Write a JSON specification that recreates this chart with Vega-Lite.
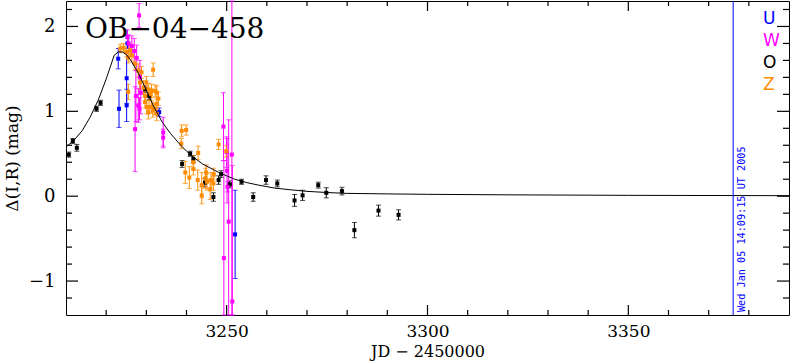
{
  "$schema": "https://vega.github.io/schema/vega-lite/v6.json",
  "width": 723,
  "height": 314,
  "autosize": {"type": "none"},
  "padding": {"left": 66, "top": 1, "right": 1, "bottom": 47},
  "background": "white",
  "config": {
    "font": "DejaVu Serif",
    "view": {"stroke": "black", "strokeWidth": 1, "fill": null},
    "axis": {"grid": false, "domain": false, "ticks": true, "tickOpacity": 0, "labelColor": "black", "titleColor": "black", "titleFontWeight": "normal", "labelFlush": false, "labelOverlap": false}
  },
  "datasets": {
    "obs": [
      {"s": "O", "x": 3210.7, "y": 0.49, "e": 0.03},
      {"s": "O", "x": 3211.7, "y": 0.65, "e": 0.03},
      {"s": "O", "x": 3212.7, "y": 0.57, "e": 0.04},
      {"s": "O", "x": 3217.6, "y": 1.03, "e": 0.03},
      {"s": "O", "x": 3218.6, "y": 1.10, "e": 0.03},
      {"s": "O", "x": 3229.7, "y": 1.26, "e": 0.04},
      {"s": "O", "x": 3230.7, "y": 1.18, "e": 0.04},
      {"s": "O", "x": 3238.9, "y": 0.38, "e": 0.04},
      {"s": "O", "x": 3240.9, "y": 0.50, "e": 0.03},
      {"s": "O", "x": 3241.7, "y": 0.44, "e": 0.04},
      {"s": "O", "x": 3244.6, "y": 0.16, "e": 0.05},
      {"s": "O", "x": 3246.7, "y": -0.01, "e": 0.05},
      {"s": "O", "x": 3248.0, "y": 0.19, "e": 0.05},
      {"s": "O", "x": 3248.6, "y": 0.26, "e": 0.04},
      {"s": "O", "x": 3250.8, "y": 0.14, "e": 0.04},
      {"s": "O", "x": 3253.7, "y": 0.17, "e": 0.03},
      {"s": "O", "x": 3256.6, "y": -0.01, "e": 0.05},
      {"s": "O", "x": 3259.8, "y": 0.19, "e": 0.05},
      {"s": "O", "x": 3262.6, "y": 0.15, "e": 0.04},
      {"s": "O", "x": 3266.9, "y": -0.05, "e": 0.07},
      {"s": "O", "x": 3268.9, "y": 0.01, "e": 0.06},
      {"s": "O", "x": 3272.8, "y": 0.13, "e": 0.035},
      {"s": "O", "x": 3274.8, "y": 0.04, "e": 0.06},
      {"s": "O", "x": 3278.7, "y": 0.06, "e": 0.045},
      {"s": "O", "x": 3281.8, "y": -0.40, "e": 0.09},
      {"s": "O", "x": 3287.8, "y": -0.17, "e": 0.065},
      {"s": "O", "x": 3292.8, "y": -0.22, "e": 0.06},
      {"s": "U", "x": 3223.0, "y": 1.62, "e": 0.12},
      {"s": "U", "x": 3225.1, "y": 1.39, "e": 0.30},
      {"s": "U", "x": 3223.2, "y": 1.03, "e": 0.22},
      {"s": "U", "x": 3225.1, "y": 1.07, "e": 0.19},
      {"s": "U", "x": 3225.3, "y": 1.80, "e": 0.06},
      {"s": "U", "x": 3233.2, "y": 0.99, "e": 0.05},
      {"s": "U", "x": 3252.1, "y": -0.45, "e": 0.52},
      {"s": "W", "x": 3228.2, "y": 2.13, "e": 0.14},
      {"s": "W", "x": 3225.3, "y": 1.88, "e": 0.08},
      {"s": "W", "x": 3225.6, "y": 1.80, "e": 0.10},
      {"s": "W", "x": 3226.4, "y": 1.77, "e": 0.12},
      {"s": "W", "x": 3227.0, "y": 1.71, "e": 0.15},
      {"s": "W", "x": 3227.6, "y": 1.63, "e": 0.15},
      {"s": "W", "x": 3228.4, "y": 1.40, "e": 0.20},
      {"s": "W", "x": 3227.4, "y": 1.18, "e": 0.30},
      {"s": "W", "x": 3228.0, "y": 1.07, "e": 0.20},
      {"s": "W", "x": 3227.2, "y": 0.79, "e": 0.50},
      {"s": "W", "x": 3228.3, "y": 1.03, "e": 0.13},
      {"s": "W", "x": 3228.6, "y": 1.22, "e": 0.25},
      {"s": "W", "x": 3234.2, "y": 0.75, "e": 0.18},
      {"s": "W", "x": 3234.2, "y": 0.69, "e": 0.10},
      {"s": "W", "x": 3249.2, "y": 0.82, "e": 0.40},
      {"s": "W", "x": 3249.3, "y": -0.73, "e": 1.15},
      {"s": "W", "x": 3250.0, "y": 0.52, "e": 0.18},
      {"s": "W", "x": 3250.1, "y": 0.30, "e": 0.38},
      {"s": "W", "x": 3250.2, "y": 0.11, "e": 0.06},
      {"s": "W", "x": 3250.5, "y": -0.30, "e": 1.20},
      {"s": "W", "x": 3251.3, "y": 0.49, "e": 2.20},
      {"s": "W", "x": 3251.4, "y": -1.24, "e": 1.60},
      {"s": "Z", "x": 3223.5, "y": 1.74, "e": 0.05},
      {"s": "Z", "x": 3224.3, "y": 1.75, "e": 0.05},
      {"s": "Z", "x": 3225.0, "y": 1.70, "e": 0.06},
      {"s": "Z", "x": 3225.9, "y": 1.72, "e": 0.06},
      {"s": "Z", "x": 3226.4, "y": 1.66, "e": 0.07},
      {"s": "Z", "x": 3225.5, "y": 1.63, "e": 0.06},
      {"s": "Z", "x": 3227.2, "y": 1.56, "e": 0.07},
      {"s": "Z", "x": 3228.0, "y": 1.48, "e": 0.08},
      {"s": "Z", "x": 3228.8, "y": 1.46, "e": 0.07},
      {"s": "Z", "x": 3231.7, "y": 1.49, "e": 0.08},
      {"s": "Z", "x": 3228.4, "y": 1.34, "e": 0.08},
      {"s": "Z", "x": 3229.3, "y": 1.28, "e": 0.08},
      {"s": "Z", "x": 3230.0, "y": 1.34, "e": 0.07},
      {"s": "Z", "x": 3230.5, "y": 1.26, "e": 0.07},
      {"s": "Z", "x": 3231.1, "y": 1.20, "e": 0.07},
      {"s": "Z", "x": 3231.3, "y": 1.24, "e": 0.08},
      {"s": "Z", "x": 3232.2, "y": 1.24, "e": 0.07},
      {"s": "Z", "x": 3232.6, "y": 1.22, "e": 0.08},
      {"s": "Z", "x": 3233.0, "y": 1.15, "e": 0.08},
      {"s": "Z", "x": 3229.7, "y": 1.18, "e": 0.08},
      {"s": "Z", "x": 3229.7, "y": 1.11, "e": 0.07},
      {"s": "Z", "x": 3230.1, "y": 1.05, "e": 0.08},
      {"s": "Z", "x": 3230.7, "y": 1.05, "e": 0.08},
      {"s": "Z", "x": 3231.3, "y": 1.05, "e": 0.07},
      {"s": "Z", "x": 3231.6, "y": 1.01, "e": 0.08},
      {"s": "Z", "x": 3232.1, "y": 1.03, "e": 0.07},
      {"s": "Z", "x": 3232.6, "y": 1.09, "e": 0.07},
      {"s": "Z", "x": 3232.6, "y": 0.97, "e": 0.08},
      {"s": "Z", "x": 3230.5, "y": 0.99, "e": 0.08},
      {"s": "Z", "x": 3225.5, "y": 1.23, "e": 0.09},
      {"s": "Z", "x": 3238.8, "y": 0.77, "e": 0.07},
      {"s": "Z", "x": 3239.9, "y": 0.78, "e": 0.06},
      {"s": "Z", "x": 3238.7, "y": 0.62, "e": 0.06},
      {"s": "Z", "x": 3239.7, "y": 0.28, "e": 0.13},
      {"s": "Z", "x": 3240.7, "y": 0.22, "e": 0.13},
      {"s": "Z", "x": 3241.7, "y": 0.40, "e": 0.08},
      {"s": "Z", "x": 3241.7, "y": 0.32, "e": 0.07},
      {"s": "Z", "x": 3242.9, "y": 0.51, "e": 0.08},
      {"s": "Z", "x": 3242.8, "y": 0.19, "e": 0.12},
      {"s": "Z", "x": 3243.8, "y": 0.13, "e": 0.15},
      {"s": "Z", "x": 3243.8, "y": 0.01, "e": 0.10},
      {"s": "Z", "x": 3244.7, "y": 0.21, "e": 0.12},
      {"s": "Z", "x": 3244.9, "y": 0.28, "e": 0.09},
      {"s": "Z", "x": 3245.1, "y": 0.17, "e": 0.10},
      {"s": "Z", "x": 3245.9, "y": 0.08, "e": 0.12},
      {"s": "Z", "x": 3246.1, "y": 0.19, "e": 0.09},
      {"s": "Z", "x": 3246.7, "y": 0.15, "e": 0.08},
      {"s": "Z", "x": 3246.8, "y": 0.26, "e": 0.07},
      {"s": "Z", "x": 3248.0, "y": 0.61, "e": 0.06},
      {"s": "Z", "x": 3249.9, "y": 0.53, "e": 0.07}
    ],
    "model": [
      {"x": 3210, "y": 0.58}, {"x": 3212, "y": 0.66}, {"x": 3214, "y": 0.77},
      {"x": 3216, "y": 0.93}, {"x": 3218, "y": 1.13}, {"x": 3220, "y": 1.38},
      {"x": 3222, "y": 1.66}, {"x": 3223, "y": 1.70}, {"x": 3224, "y": 1.70},
      {"x": 3225, "y": 1.67}, {"x": 3226, "y": 1.61}, {"x": 3228, "y": 1.45},
      {"x": 3230, "y": 1.25}, {"x": 3232, "y": 1.04}, {"x": 3234, "y": 0.87},
      {"x": 3236, "y": 0.74}, {"x": 3238, "y": 0.63}, {"x": 3240, "y": 0.53},
      {"x": 3242, "y": 0.45}, {"x": 3244, "y": 0.38}, {"x": 3246, "y": 0.33},
      {"x": 3248, "y": 0.28}, {"x": 3250, "y": 0.24}, {"x": 3252, "y": 0.20},
      {"x": 3255, "y": 0.16}, {"x": 3258, "y": 0.13}, {"x": 3262, "y": 0.095},
      {"x": 3266, "y": 0.075}, {"x": 3270, "y": 0.057}, {"x": 3275, "y": 0.043},
      {"x": 3280, "y": 0.033}, {"x": 3290, "y": 0.027}, {"x": 3300, "y": 0.022},
      {"x": 3320, "y": 0.016}, {"x": 3350, "y": 0.01}, {"x": 3390, "y": 0.006}
    ],
    "xticks": [{"v": 3220}, {"v": 3230}, {"v": 3240}, {"v": 3260}, {"v": 3270}, {"v": 3280}, {"v": 3290}, {"v": 3310}, {"v": 3320}, {"v": 3330}, {"v": 3340}, {"v": 3360}, {"v": 3370}, {"v": 3380}],
    "xmajor": [{"v": 3250}, {"v": 3300}, {"v": 3350}],
    "yticks": [{"v": -1.2}, {"v": -0.8}, {"v": -0.6}, {"v": -0.4}, {"v": -0.2}, {"v": 0.2}, {"v": 0.4}, {"v": 0.6}, {"v": 0.8}, {"v": 1.2}, {"v": 1.4}, {"v": 1.6}, {"v": 1.8}, {"v": 2.2}],
    "ymajor": [{"v": -1}, {"v": 0}, {"v": 1}, {"v": 2}],
    "one": [{"k": 1}]
  },
  "layer": [
    {
      "data": {"name": "obs"},
      "mark": {"type": "errorbar", "ticks": {"size": 5}, "thickness": 1},
      "encoding": {
        "x": {"field": "x", "type": "quantitative",
          "scale": {"domain": [3210, 3390], "nice": false, "zero": false},
          "axis": {"orient": "bottom", "offset": -10, "title": "JD − 2450000", "titleFontSize": 16, "titlePadding": 4,
            "values": [3250, 3300, 3350],
            "format": "d",
            "labelFontSize": 17, "labelPadding": 8,
            "tickSize": 10}},
        "y": {"field": "y", "type": "quantitative",
          "scale": {"domain": [-1.4, 2.3], "nice": false, "zero": false, "clamp": true},
          "axis": {"orient": "left", "offset": -12, "title": "Δ(I,R) (mag)", "titleFontSize": 17, "titlePadding": 7,
            "values": [-1, 0, 1, 2],
            "format": "d",
            "labelFontSize": 18, "labelPadding": 11,
            "tickSize": 12}},
        "yError": {"field": "e"},
        "color": {"field": "s", "type": "nominal",
          "scale": {"domain": ["U", "W", "O", "Z"], "range": ["#0000ff", "#ff00ff", "#000000", "#ff8c00"]},
          "legend": {"orient": "top-right", "offset": 9, "title": null, "symbolOpacity": 0, "symbolStrokeWidth": 0, "symbolSize": 0,
            "labelFontSize": 17, "labelFont": "DejaVu Sans", "rowPadding": 4, "labelOffset": 0, "padding": 0,
            "encode": {"labels": {"update": {"fill": {"scale": "color", "field": "value"}}}}}}
      }
    },
    {
      "data": {"name": "obs"},
      "mark": {"type": "square", "size": 16, "opacity": 1, "filled": true},
      "encoding": {
        "x": {"field": "x", "type": "quantitative"},
        "y": {"field": "y", "type": "quantitative"},
        "color": {"field": "s", "type": "nominal"}
      }
    },
    {
      "data": {"name": "model"},
      "mark": {"type": "line", "color": "black", "strokeWidth": 1},
      "encoding": {
        "x": {"field": "x", "type": "quantitative"},
        "y": {"field": "y", "type": "quantitative"}
      }
    },
    {
      "data": {"name": "xticks"},
      "mark": {"type": "rule", "color": "black", "strokeWidth": 1.2},
      "encoding": {"x": {"field": "v", "type": "quantitative"}, "y": {"datum": -1.4, "type": "quantitative"}, "y2": {"datum": -1.3411}}
    },
    {
      "data": {"name": "xticks"},
      "mark": {"type": "rule", "color": "black", "strokeWidth": 1.2},
      "encoding": {"x": {"field": "v", "type": "quantitative"}, "y": {"datum": 2.3, "type": "quantitative"}, "y2": {"datum": 2.2411}}
    },
    {
      "data": {"name": "xmajor"},
      "mark": {"type": "rule", "color": "black", "strokeWidth": 1.2},
      "encoding": {"x": {"field": "v", "type": "quantitative"}, "y": {"datum": -1.4, "type": "quantitative"}, "y2": {"datum": -1.2822}}
    },
    {
      "data": {"name": "xmajor"},
      "mark": {"type": "rule", "color": "black", "strokeWidth": 1.2},
      "encoding": {"x": {"field": "v", "type": "quantitative"}, "y": {"datum": 2.3, "type": "quantitative"}, "y2": {"datum": 2.1822}}
    },
    {
      "data": {"name": "yticks"},
      "mark": {"type": "rule", "color": "black", "strokeWidth": 1.2},
      "encoding": {"y": {"field": "v", "type": "quantitative"}, "x": {"datum": 3210, "type": "quantitative"}, "x2": {"datum": 3211.494}}
    },
    {
      "data": {"name": "yticks"},
      "mark": {"type": "rule", "color": "black", "strokeWidth": 1.2},
      "encoding": {"y": {"field": "v", "type": "quantitative"}, "x": {"datum": 3390, "type": "quantitative"}, "x2": {"datum": 3388.506}}
    },
    {
      "data": {"name": "ymajor"},
      "mark": {"type": "rule", "color": "black", "strokeWidth": 1.2},
      "encoding": {"y": {"field": "v", "type": "quantitative"}, "x": {"datum": 3210, "type": "quantitative"}, "x2": {"datum": 3212.988}}
    },
    {
      "data": {"name": "ymajor"},
      "mark": {"type": "rule", "color": "black", "strokeWidth": 1.2},
      "encoding": {"y": {"field": "v", "type": "quantitative"}, "x": {"datum": 3390, "type": "quantitative"}, "x2": {"datum": 3387.012}}
    },
    {
      "data": {"name": "one"},
      "mark": {"type": "rule", "color": "#0000ff", "strokeWidth": 1},
      "encoding": {"x": {"datum": 3376.1, "type": "quantitative"}}
    },
    {
      "data": {"name": "one"},
      "mark": {"type": "text", "text": "Wed Jan 05 14:09:15 UT 2005", "color": "#0000ff", "font": "DejaVu Sans Mono", "fontSize": 10.2, "angle": 270, "align": "left", "baseline": "alphabetic"},
      "encoding": {
        "x": {"datum": 3379.0, "type": "quantitative"},
        "y": {"datum": -1.365, "type": "quantitative"}
      }
    },
    {
      "data": {"name": "one"},
      "mark": {"type": "text", "text": "OB−04−458", "color": "black", "font": "DejaVu Serif", "fontSize": 28, "align": "left", "baseline": "alphabetic"},
      "encoding": {
        "x": {"datum": 3214.7, "type": "quantitative"},
        "y": {"datum": 1.866, "type": "quantitative"}
      }
    }
  ]
}
